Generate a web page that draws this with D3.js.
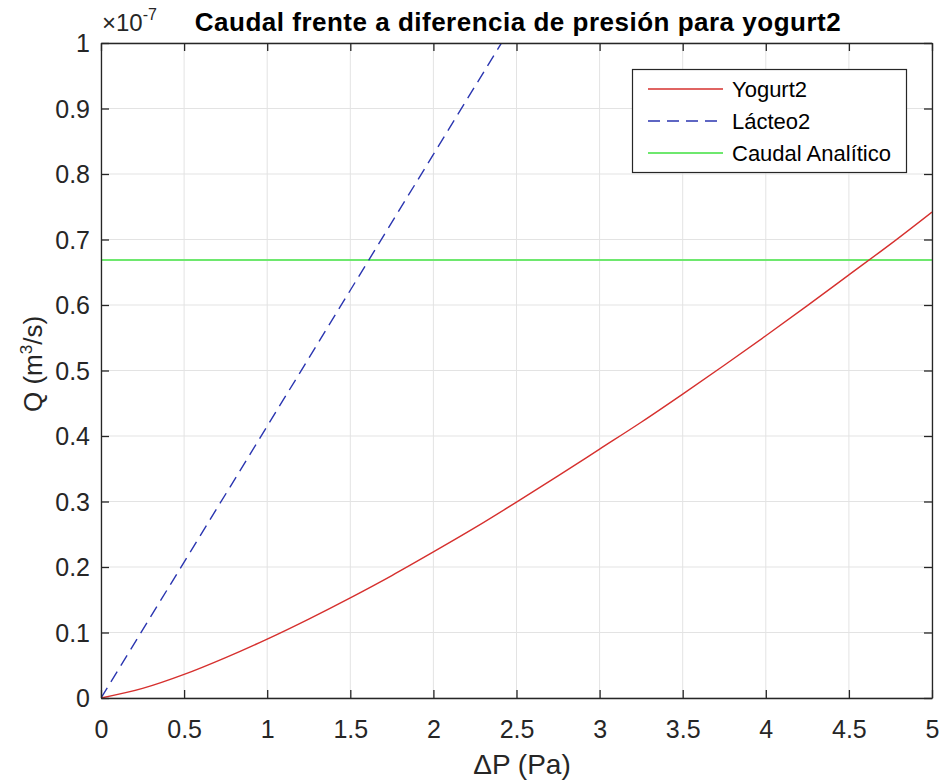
<!DOCTYPE html>
<html>
<head>
<meta charset="utf-8">
<script src="https://cdn.jsdelivr.net/npm/d3@7"></script>
<style>
  html, body { margin: 0; padding: 0; background: #fff; }
  svg { display: block; font-family: "Liberation Sans", Arial, Helvetica, sans-serif; }
</style>
</head>
<body>
<svg id="chart" width="942" height="782"></svg>
<script>
// Pressure difference samples (Pa)
const dP = [0, 0.25, 0.5, 0.75, 1, 1.25, 1.5, 1.75, 2, 2.25, 2.5, 2.75, 3, 3.25, 3.5, 3.75, 4, 4.25, 4.5, 4.75, 5];
// Flow for yogurt2 (units of 1e-7 m^3/s)
const yogurt2 = [0, 0.0146, 0.036, 0.0617, 0.090, 0.1206, 0.153, 0.187, 0.223, 0.260, 0.299, 0.339, 0.380, 0.421, 0.464, 0.508, 0.553, 0.599, 0.646, 0.693, 0.742];
// Flow for lácteo2 (units of 1e-7 m^3/s), straight line
const lacteoP = [0, 5];
const lacteo2 = [0, 2.075];
// Analytic flow (units of 1e-7 m^3/s)
const caudalAnalitico = 0.6687;

const xTicks = [0, 0.5, 1, 1.5, 2, 2.5, 3, 3.5, 4, 4.5, 5];
const yTicks = [0, 0.1, 0.2, 0.3, 0.4, 0.5, 0.6, 0.7, 0.8, 0.9, 1];

const svg = d3.select("#chart");
const L = 101, R = 932, T = 43, B = 698;

const x = d3.scaleLinear().domain([0, 5]).range([L, R]);
const y = d3.scaleLinear().domain([0, 1]).range([B, T]);

const axisColor = "#262626";
const gridColor = "#e3e3e3";
const fontFam = "Liberation Sans, Arial, sans-serif";

// grid
svg.append("g").selectAll("line").data(xTicks).join("line")
  .attr("x1", d => x(d)).attr("x2", d => x(d)).attr("y1", T).attr("y2", B)
  .attr("stroke", gridColor).attr("stroke-width", 1);
svg.append("g").selectAll("line").data(yTicks).join("line")
  .attr("y1", d => y(d)).attr("y2", d => y(d)).attr("x1", L).attr("x2", R)
  .attr("stroke", gridColor).attr("stroke-width", 1);

// clip to plot area
svg.append("defs").append("clipPath").attr("id", "plotClip")
  .append("rect").attr("x", L).attr("y", T).attr("width", R - L).attr("height", B - T);

const plot = svg.append("g").attr("clip-path", "url(#plotClip)");
const line = d3.line().x(d => x(d[0])).y(d => y(d[1]));

plot.append("path")
  .datum([[0, caudalAnalitico], [5, caudalAnalitico]])
  .attr("d", line).attr("fill", "none")
  .attr("stroke", "#6ee86e").attr("stroke-width", 1.8);

plot.append("path")
  .datum(lacteoP.map((p, i) => [p, lacteo2[i]]))
  .attr("d", line).attr("fill", "none")
  .attr("stroke", "#2a35b0").attr("stroke-width", 1.4)
  .attr("stroke-dasharray", "12,7");

plot.append("path")
  .datum(dP.map((p, i) => [p, yogurt2[i]]))
  .attr("d", d3.line().curve(d3.curveMonotoneX).x(d => x(d[0])).y(d => y(d[1])))
  .attr("fill", "none")
  .attr("stroke", "#d6302e").attr("stroke-width", 1.4);

// axes with inward ticks on all sides
const tickLen = 8;
const fmt = d => String(d);

const xb = svg.append("g").attr("transform", `translate(0,${B})`)
  .call(d3.axisBottom(x).tickValues(xTicks).tickFormat(fmt).tickSizeInner(-tickLen).tickSizeOuter(0));
const xt = svg.append("g").attr("transform", `translate(0,${T})`)
  .call(d3.axisTop(x).tickValues(xTicks).tickFormat("").tickSizeInner(-tickLen).tickSizeOuter(0));
const yl = svg.append("g").attr("transform", `translate(${L},0)`)
  .call(d3.axisLeft(y).tickValues(yTicks).tickFormat(fmt).tickSizeInner(-tickLen).tickSizeOuter(0));
const yr = svg.append("g").attr("transform", `translate(${R},0)`)
  .call(d3.axisRight(y).tickValues(yTicks).tickFormat("").tickSizeInner(-tickLen).tickSizeOuter(0));

[xb, xt, yl, yr].forEach(g => {
  g.attr("font-size", null).attr("font-family", null);
  g.selectAll("path.domain").attr("stroke", axisColor).attr("stroke-width", 1.3);
  g.selectAll(".tick line").attr("stroke", axisColor).attr("stroke-width", 1.3);
  g.selectAll(".tick text").attr("fill", axisColor)
    .style("font-size", "25px").style("font-family", fontFam);
});
xb.selectAll(".tick text").attr("y", 31).attr("dy", "0.35em");
yl.selectAll(".tick text").attr("x", -11).attr("dy", "0.35em");

// exponent label
const ex = svg.append("text").attr("x", 102).attr("y", 31)
  .attr("fill", axisColor).style("font-size", "24px");
ex.append("tspan").text("\u00d710");
ex.append("tspan").style("font-size", "16px").attr("dy", -11).text("-7");

// title
svg.append("text").attr("x", 518).attr("y", 31).attr("text-anchor", "middle")
  .attr("font-weight", "bold").style("font-size", "26px").style("letter-spacing", "0.5px")
  .attr("fill", "#000")
  .text("Caudal frente a diferencia de presión para yogurt2");

// x label
svg.append("text").attr("x", 522).attr("y", 774).attr("text-anchor", "middle")
  .style("font-size", "28px").attr("fill", axisColor).text("\u0394P (Pa)");

// y label
const yLab = svg.append("text").attr("transform", "translate(42,364) rotate(-90)")
  .attr("text-anchor", "middle").style("font-size", "26px").attr("fill", axisColor);
yLab.append("tspan").text("Q (m");
yLab.append("tspan").style("font-size", "17px").attr("dy", -10).text("3");
yLab.append("tspan").attr("dy", 10).text("/s)");

// legend
const legendItems = [
  { name: "Yogurt2", color: "#d6302e", dash: null, w: 1.4 },
  { name: "Lácteo2", color: "#2a35b0", dash: "12,7", w: 1.4 },
  { name: "Caudal Analítico", color: "#6ee86e", dash: null, w: 1.8 }
];
const lg = svg.append("g");
lg.append("rect").attr("x", 632.5).attr("y", 69.5).attr("width", 274).attr("height", 103)
  .attr("fill", "#fff").attr("stroke", axisColor).attr("stroke-width", 1.2);
legendItems.forEach((it, i) => {
  const cy = 89 + i * 32;
  lg.append("line").attr("x1", 648).attr("x2", 723).attr("y1", cy).attr("y2", cy)
    .attr("stroke", it.color).attr("stroke-width", it.w)
    .attr("stroke-dasharray", it.dash);
  lg.append("text").attr("x", 732).attr("y", cy).attr("dy", "0.35em")
    .style("font-size", "22px").attr("fill", "#000").text(it.name);
});
</script>
</body>
</html>
